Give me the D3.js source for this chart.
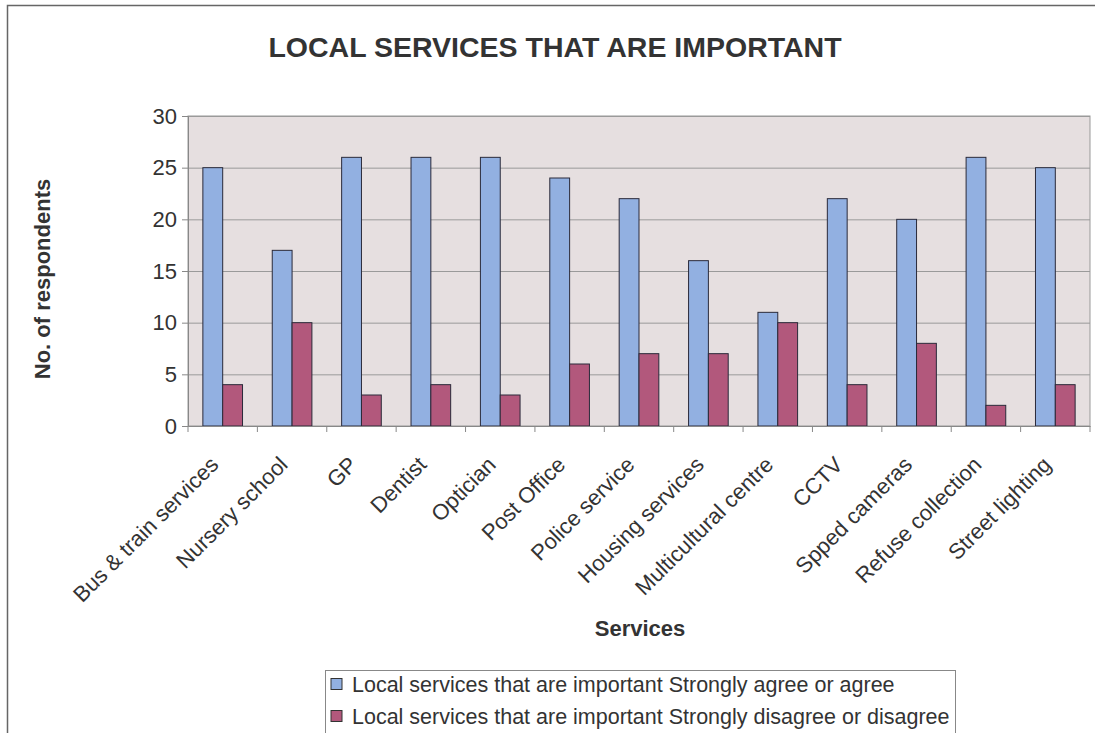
<!DOCTYPE html>
<html>
<head>
<meta charset="utf-8">
<script src="https://cdn.jsdelivr.net/npm/d3@7"></script>
<style>
  body { margin: 0; background: #fff; }
  text { font-family: "Liberation Sans", Arial, sans-serif; fill: #333; }
</style>
</head>
<body>
<svg id="chart" width="1095" height="733"></svg>
<script>
// Data ------------------------------------------
var services = ["Bus & train services", "Nursery school", "GP", "Dentist", "Optician",
  "Post Office", "Police service", "Housing services", "Multicultural centre", "CCTV",
  "Spped cameras", "Refuse collection", "Street lighting"];
var agree = [25, 17, 26, 26, 26, 24, 22, 16, 11, 22, 20, 26, 25];
var disagree = [4, 10, 3, 4, 3, 6, 7, 7, 10, 4, 8, 2, 4];
var seriesNames = ["Local services that are important Strongly agree or agree",
  "Local services that are important Strongly disagree or disagree"];
var yTicks = [0, 5, 10, 15, 20, 25, 30];

var svg = d3.select("#chart");
var colors = ["#92b0e1", "#b2587c"];

// outer frame
svg.append("rect")
  .attr("x", 7.5).attr("y", 5.5)
  .attr("width", 1100).attr("height", 740)
  .attr("fill", "none").attr("stroke", "#666").attr("stroke-width", 1.5);

var plotLeft = 188, plotRight = 1090, plotTop = 116, plotBottom = 426;

// Scales ---------------------------------------
var x = d3.scaleBand().domain(services).range([plotLeft, plotRight]);
var inner = d3.scaleBand().domain([0, 1]).range([0, x.bandwidth() * 2 / 3.5]);
var y = d3.scaleLinear().domain([0, 30]).range([plotBottom, plotTop]);

// plot area
svg.append("rect")
  .attr("x", plotLeft).attr("y", plotTop)
  .attr("width", plotRight - plotLeft).attr("height", plotBottom - plotTop)
  .attr("fill", "#e6dfe0").attr("stroke", "#999").attr("stroke-width", 1);

// gridlines
svg.append("g")
  .selectAll("line")
  .data(yTicks.slice(1))
  .enter().append("line")
  .attr("x1", plotLeft).attr("x2", plotRight)
  .attr("y1", function(d) { return y(d) + 0.5 })
  .attr("y2", function(d) { return y(d) + 0.5 })
  .attr("stroke", "#9a9a9a").attr("stroke-width", 1);

// bars
var rows = services.map(function(s, i) { return { name: s, vals: [agree[i], disagree[i]] } });
var groupOffset = (x.bandwidth() - inner.range()[1]) / 2;
svg.append("g")
  .selectAll("g")
  .data(rows)
  .enter().append("g")
  .attr("transform", function(d) { return "translate(" + (x(d.name) + groupOffset) + ",0)" })
  .selectAll("rect")
  .data(function(d) { return d.vals })
  .enter().append("rect")
  .attr("x", function(d, i) { return inner(i) })
  .attr("y", function(d) { return y(d) })
  .attr("width", inner.bandwidth())
  .attr("height", function(d) { return plotBottom - y(d) })
  .attr("fill", function(d, i) { return colors[i] })
  .attr("stroke", "#2a2a3a").attr("stroke-width", 1);

// Axes ------------------------------------------
var yAxis = svg.append("g")
  .attr("transform", "translate(" + plotLeft + ",0)")
  .call(d3.axisLeft(y).tickValues(yTicks).tickSize(6).tickPadding(5));
yAxis.select(".domain").attr("stroke", "#888");
yAxis.selectAll(".tick line").attr("stroke", "#888");
yAxis.selectAll("text").attr("font-size", 22).attr("fill", "#333")
  .style("font-family", "Liberation Sans, Arial, sans-serif");

var xAxis = svg.append("g")
  .attr("transform", "translate(0," + plotBottom + ")")
  .call(d3.axisBottom(x).tickSize(0).tickFormat(""));
xAxis.select(".domain").attr("stroke", "#888");

// category boundary ticks
svg.append("g")
  .selectAll("line")
  .data(services.concat(["end"]))
  .enter().append("line")
  .attr("x1", function(d, i) { return plotLeft + i * x.step() })
  .attr("x2", function(d, i) { return plotLeft + i * x.step() })
  .attr("y1", plotBottom).attr("y2", plotBottom + 6)
  .attr("stroke", "#888");

// rotated category labels
svg.append("g")
  .selectAll("text")
  .data(services)
  .enter().append("text")
  .attr("transform", function(d) {
    return "translate(" + (x(d) + x.bandwidth() / 2 - 3) + "," + (plotBottom + 40) + ") rotate(-45)";
  })
  .attr("text-anchor", "end")
  .attr("font-size", 22)
  .text(function(d) { return d });

// Titles ----------------------------------------
svg.append("text")
  .attr("x", 555).attr("y", 57)
  .attr("text-anchor", "middle")
  .attr("font-size", 28.5).attr("font-weight", "bold")
  .attr("fill", "#555")
  .text("LOCAL SERVICES THAT ARE IMPORTANT");

svg.append("text")
  .attr("transform", "translate(50,279) rotate(-90)")
  .attr("text-anchor", "middle")
  .attr("font-size", 22).attr("font-weight", "bold")
  .attr("fill", "#444")
  .text("No. of respondents");

svg.append("text")
  .attr("x", 640).attr("y", 636)
  .attr("text-anchor", "middle")
  .attr("font-size", 22).attr("font-weight", "bold")
  .attr("fill", "#444")
  .text("Services");

// Legend ----------------------------------------
var legend = svg.append("g").attr("transform", "translate(325,670)");
legend.append("rect")
  .attr("x", 0.5).attr("y", 0.5).attr("width", 630).attr("height", 75)
  .attr("fill", "#fff").attr("stroke", "#888");
var items = legend.selectAll("g.item")
  .data(seriesNames)
  .enter().append("g")
  .attr("class", "item")
  .attr("transform", function(d, i) { return "translate(6," + (14 + i * 32) + ")" });
items.append("rect")
  .attr("y", -5.5)
  .attr("width", 11).attr("height", 11)
  .attr("fill", function(d, i) { return colors[i] })
  .attr("stroke", "#333");
items.append("text")
  .attr("x", 21)
  .attr("dy", "0.35em")
  .attr("font-size", 21.5)
  .text(function(d) { return d });
</script>
</body>
</html>
